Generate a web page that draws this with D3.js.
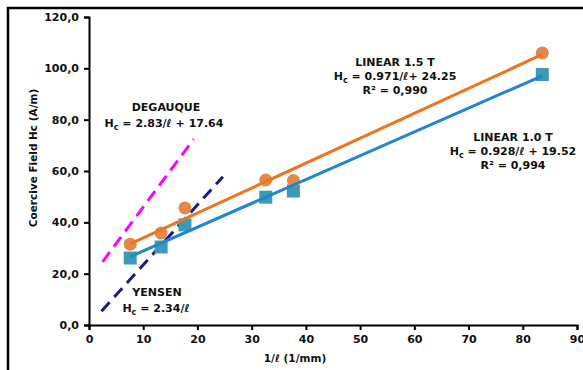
<!DOCTYPE html>
<html>
<head>
<meta charset="utf-8">
<script src="https://cdn.jsdelivr.net/npm/d3@7"></script>
<style>
  body { margin: 0; background: #fff; }
  svg text { font-family: "DejaVu Sans", sans-serif; font-weight: bold; fill: #111; }
</style>
</head>
<body>
<svg id="chart" width="583" height="370"></svg>
<script>
// values
const invL = [7.6, 13.3, 17.7, 32.6, 37.7, 83.6];
const hc15 = [31.5, 35.8, 45.6, 56.5, 56.3, 106.0];
const hc10 = [26.1, 30.4, 39.0, 49.8, 52.2, 97.6];

const fit15 = [[7.6, 31.6], [83.6, 105.4]];
const fit10 = [[7.6, 26.6], [83.6, 97.1]];
const degauque = [[2.5, 24.6], [19.3, 72.4]];
const yensen = [[2.3, 5.4], [24.7, 57.8]];

const xTicks = [0, 10, 20, 30, 40, 50, 60, 70, 80, 90];
const yTicks = [0, 20, 40, 60, 80, 100, 120];

const svg = d3.select("#chart");

// outer frame
svg.append("rect")
    .attr("x", 8).attr("y", 8)
    .attr("width", 600).attr("height", 400)
    .attr("fill", "none")
    .attr("stroke", "#000")
    .attr("stroke-width", 2.5);

const x = d3.scaleLinear().domain([0, 90]).range([89, 577]);
const y = d3.scaleLinear().domain([0, 120]).range([325, 17]);

const yAxis = svg.append("g")
    .attr("transform", "translate(89,0)")
    .call(d3.axisLeft(y).tickValues(yTicks).tickSize(5).tickPadding(5)
        .tickFormat(d => d3.format(".1f")(d).replace(".", ",")));

const xAxis = svg.append("g")
    .attr("transform", "translate(0,325)")
    .call(d3.axisBottom(x).tickValues(xTicks).tickSize(5).tickPadding(5)
        .tickFormat(d3.format("d")));

[xAxis, yAxis].forEach(a => {
    a.select(".domain").attr("stroke", "#000").attr("stroke-width", 2);
    a.selectAll(".tick line").attr("stroke", "#000").attr("stroke-width", 2);
    a.selectAll("text")
        .style("font-family", "'DejaVu Sans', sans-serif")
        .style("font-weight", "bold")
        .style("font-size", "11px")
        .attr("fill", "#111");
});

// axis titles
svg.append("text")
    .attr("x", 295).attr("y", 362)
    .attr("text-anchor", "middle")
    .style("font-size", "10.5px")
    .text("1/ℓ (1/mm)");

svg.append("text")
    .attr("transform", "translate(37,158) rotate(-90)")
    .attr("text-anchor", "middle")
    .style("font-size", "10.5px")
    .text("Coercive Field Hc (A/m)");

const line = d3.line().x(d => x(d[0])).y(d => y(d[1]));

// model lines (dashed)
svg.append("path").datum(degauque)
    .attr("d", line)
    .attr("fill", "none")
    .attr("stroke", "#ff00ff")
    .attr("stroke-width", 3)
    .attr("stroke-dasharray", "12,7");

svg.append("path").datum(yensen)
    .attr("d", line)
    .attr("fill", "none")
    .attr("stroke", "#1a1a8a")
    .attr("stroke-width", 3)
    .attr("stroke-dasharray", "12,7");

// markers
svg.append("g").selectAll("rect")
    .data(invL.map((v, i) => [v, hc10[i]]))
    .join("rect")
    .attr("x", d => x(d[0]) - 6.5)
    .attr("y", d => y(d[1]) - 6.5)
    .attr("width", 13).attr("height", 13)
    .attr("fill", "#3b9ab4");

svg.append("g").selectAll("circle")
    .data(invL.map((v, i) => [v, hc15[i]]))
    .join("circle")
    .attr("cx", d => x(d[0]))
    .attr("cy", d => y(d[1]))
    .attr("r", 6.5)
    .attr("fill", "#e0894a");

// fit lines
svg.append("path").datum(fit10)
    .attr("d", line)
    .attr("fill", "none")
    .attr("stroke", "#1f86cf")
    .attr("stroke-width", 3);

svg.append("path").datum(fit15)
    .attr("d", line)
    .attr("fill", "none")
    .attr("stroke", "#ee7420")
    .attr("stroke-width", 3);

// annotations
function label(cx, cy, parts) {
    const t = svg.append("text")
        .attr("x", cx).attr("y", cy)
        .attr("text-anchor", "middle")
        .style("font-size", "11px");
    parts.forEach(p => {
        const s = t.append("tspan").text(p.t);
        if (p.sub) s.style("font-size", "8px").attr("dy", 3);
        if (p.up) s.attr("dy", -3);
    });
}

function eq(cx, cy, rest) {
    label(cx, cy, [{ t: "H" }, { t: "c", sub: true }, { t: rest, up: true }]);
}

label(395, 66, [{ t: "LINEAR 1.5 T" }]);
eq(395, 80, " = 0.971/ℓ+ 24.25");
label(395, 94, [{ t: "R² = 0,990" }]);

label(513, 141, [{ t: "LINEAR 1.0 T" }]);
eq(513, 155, " = 0.928/ℓ + 19.52");
label(513, 169, [{ t: "R² = 0,994" }]);

label(166, 111, [{ t: "DEGAUQUE" }]);
eq(164, 127, " = 2.83/ℓ + 17.64");

label(157, 296, [{ t: "YENSEN" }]);
eq(156, 312, " = 2.34/ℓ");
</script>
</body>
</html>
